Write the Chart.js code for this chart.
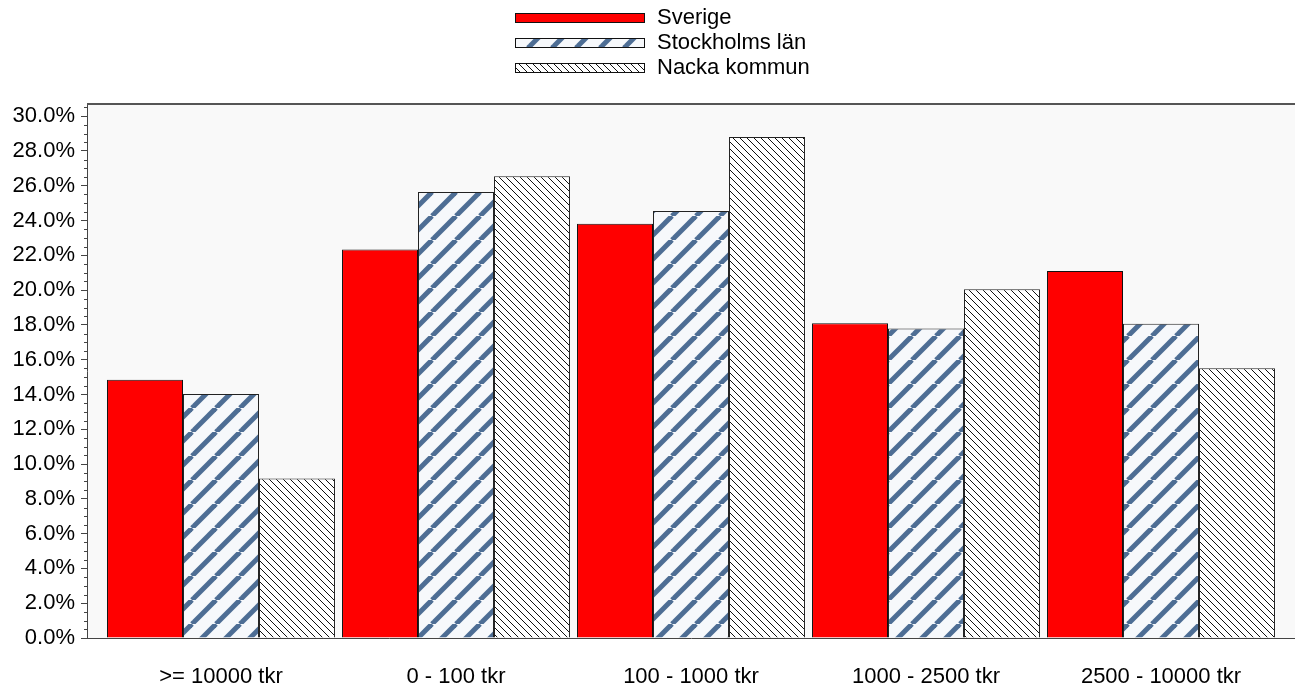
<!DOCTYPE html>
<html>
<head>
<meta charset="utf-8">
<script src="https://cdn.jsdelivr.net/npm/chart.js@4/dist/chart.umd.min.js"></script>
<style>
  body { margin: 0; background: #fff; }
  #wrap { width: 1295px; height: 692px; }
</style>
</head>
<body>
<div id="wrap"><canvas id="chart"></canvas></div>
<script>
// === Data ===
const categories = ['>= 10000 tkr', '0 - 100 tkr', '100 - 1000 tkr', '1000 - 2500 tkr', '2500 - 10000 tkr'];
const sverige = [14.84, 22.33, 23.82, 18.09, 21.10];
const stockholm = [14.03, 25.64, 24.55, 17.79, 18.07];
const nacka = [9.17, 26.54, 28.80, 20.05, 15.51];
const seriesNames = ['Sverige', 'Stockholms län', 'Nacka kommun'];
const yTicks = [0, 2, 4, 6, 8, 10, 12, 14, 16, 18, 20, 22, 24, 26, 28, 30];
const yMax = 30.7;

const FONT = "'Liberation Sans', Arial, sans-serif";

// === Patterns ===
function stripePattern(size, back, color, width, dir) {
  const c = document.createElement('canvas');
  c.width = size; c.height = size;
  const g = c.getContext('2d');
  g.fillStyle = back;
  g.fillRect(0, 0, size, size);
  g.strokeStyle = color;
  g.lineWidth = width;
  for (let k = -1; k <= 1; k++) {
    g.beginPath();
    if (dir === '/') {
      g.moveTo(k * size, size);
      g.lineTo(k * size + size, 0);
    } else {
      g.moveTo(k * size, 0);
      g.lineTo(k * size + size, size);
    }
    g.stroke();
  }
  return g.createPattern(c, 'repeat');
}

const blueHatch = stripePattern(24, '#f6f8fb', '#4d6d94', 5, '/');
const blackHatch = stripePattern(7, '#ffffff', '#111111', 1, '\\');

const toPoints = arr => arr.map((v, i) => ({ x: i, y: v }));

// === Plugin : fond, bordure, petites graduations, légende ===
const decor = {
  id: 'decor',
  beforeDraw(chart) {
    const { ctx, chartArea: a } = chart;
    ctx.save();
    ctx.fillStyle = '#f9f9f9';
    ctx.fillRect(a.left, a.top, a.right - a.left, a.bottom - a.top);
    ctx.restore();
  },
  afterDraw(chart) {
    const { ctx, chartArea: a } = chart;
    const y = chart.scales.y;
    ctx.save();
    // bordure haute
    ctx.strokeStyle = '#555';
    ctx.lineWidth = 2;
    ctx.beginPath();
    ctx.moveTo(a.left, a.top);
    ctx.lineTo(a.right, a.top);
    ctx.stroke();
    // petites graduations
    ctx.strokeStyle = '#444';
    ctx.lineWidth = 1;
    for (let v = 0; v <= yMax; v += 0.5) {
      if (v % 2 === 0) continue;
      const py = Math.round(y.getPixelForValue(v)) + 0.5;
      ctx.beginPath();
      ctx.moveTo(a.left - 3, py);
      ctx.lineTo(a.left, py);
      ctx.stroke();
    }
    // légende
    ctx.font = '22px ' + FONT;
    ctx.textBaseline = 'middle';
    chart.data.datasets.forEach((ds, i) => {
      const cy = 18 + i * 25;
      ctx.fillStyle = ds.backgroundColor;
      ctx.fillRect(515, cy - 5, 130, 10);
      ctx.strokeStyle = '#111';
      ctx.strokeRect(515.5, cy - 4.5, 129, 9);
      ctx.fillStyle = '#000';
      ctx.fillText(ds.label, 657, cy);
    });
    ctx.restore();
  }
};

// === Graphique ===
const pad = 16.5 / 235;
new Chart(document.getElementById('chart'), {
  type: 'bar',
  data: {
    datasets: [
      { label: seriesNames[0], data: toPoints(sverige), backgroundColor: '#ff0000', borderColor: '#111', borderWidth: 1 },
      { label: seriesNames[1], data: toPoints(stockholm), backgroundColor: blueHatch, borderColor: '#222', borderWidth: 1 },
      { label: seriesNames[2], data: toPoints(nacka), backgroundColor: blackHatch, borderColor: '#222', borderWidth: 1 }
    ]
  },
  options: {
    responsive: true,
    maintainAspectRatio: false,
    animation: false,
    categoryPercentage: 0.97,
    barPercentage: 1,
    layout: { padding: { top: 104, left: 0, right: 0, bottom: 0 } },
    plugins: { legend: { display: false }, tooltip: { enabled: false } },
    scales: {
      x: {
        type: 'linear',
        offset: false,
        min: -0.5 - pad,
        max: categories.length - 0.5 + pad,
        afterBuildTicks: s => { s.ticks = categories.map((c, i) => ({ value: i })); },
        afterFit: s => { s.height = 54; },
        grid: { display: false },
        border: { display: true, color: '#444', width: 1 },
        ticks: {
          autoSkip: false,
          maxRotation: 0,
          padding: 18,
          color: '#000',
          font: { family: FONT, size: 22 },
          callback: v => categories[Math.round(v)]
        }
      },
      y: {
        min: 0,
        max: yMax,
        afterBuildTicks: s => { s.ticks = yTicks.map(v => ({ value: v })); },
        afterFit: s => { s.width = 87; },
        grid: { drawOnChartArea: false, drawTicks: true, tickLength: 6, tickColor: '#444' },
        border: { display: true, color: '#444', width: 1 },
        ticks: {
          padding: 6,
          color: '#000',
          font: { family: FONT, size: 22 },
          callback: v => v.toFixed(1) + '%'
        }
      }
    }
  },
  plugins: [decor]
});
</script>
</body>
</html>
